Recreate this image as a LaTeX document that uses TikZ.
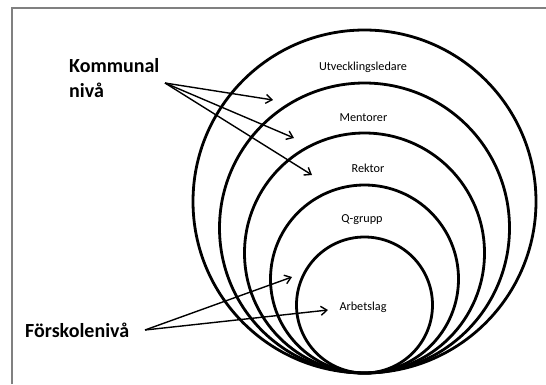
\documentclass[tikz,border=0pt]{standalone}
\usepackage{fontspec}
\setmainfont{Carlito}
\usetikzlibrary{arrows.meta}
\begin{document}
\begin{tikzpicture}[x=1pt,y=-1pt,
  ring/.style={line width=2.8pt,draw=black},
  lbl/.style={font=\fontsize{12.2}{14}\selectfont,inner sep=0pt},
  big/.style={font=\fontsize{20}{25}\selectfont\bfseries,inner sep=0pt,align=left},
  arr/.style={line width=1.4pt,-{Straight Barb[length=6pt,width=9pt]}}]
\useasboundingbox (0,0) rectangle (546,384);
\draw[gray,line width=1.2pt] (12,384) -- (12,8) -- (546,8);
\draw[ring] (364.5,201.5) circle [radius=171.5];
\draw[ring] (364.5,228) circle [radius=145];
\draw[ring] (364.5,253) circle [radius=120];
\draw[ring] (364.5,279) circle [radius=94];
\draw[ring] (364.5,305) circle [radius=68];
\node[lbl] (u) at (363,67) {Utvecklingsledare};
\node[lbl] (m) at (363.5,118) {Mentorer};
\node[lbl] (r) at (368,168) {Rektor};
\node[lbl] (q) at (362,220) {Q-grupp};
\node[lbl] (a) at (363,307) {Arbetslag};
\node[big,anchor=north west] (k) at (69,58) {Kommunal\\nivå};
\node[big,anchor=west] (f) at (25,330) {Förskolenivå};
\coordinate (ks) at (165,83);
\coordinate (k1) at (273,100);
\coordinate (k2) at (294,138);
\coordinate (k3) at (312,175);
\coordinate (fs) at (145,330);
\coordinate (f1) at (292,277);
\coordinate (f2) at (328,310);
\draw[arr] (ks) -- (k1);
\draw[arr] (ks) -- (k2);
\draw[arr] (ks) -- (k3);
\draw[arr] (fs) -- (f1);
\draw[arr] (fs) -- (f2);
\end{tikzpicture}
\end{document}
